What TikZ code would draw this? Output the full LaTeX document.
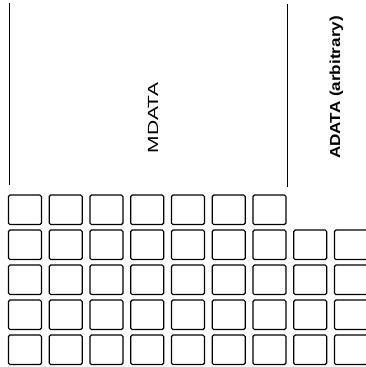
\documentclass[tikz,border=0pt]{standalone}
\usepackage{fontspec}
\setmainfont{Liberation Sans}
\tikzset{
  cell/.style={rectangle, draw, line width=1.2pt, rounded corners=1.5pt,
    minimum width=33pt, minimum height=29.5pt, inner sep=0pt},
  bar/.style={line width=1pt},
}
\begin{document}
\begin{tikzpicture}[x=1pt, y=-1pt]
        \useasboundingbox (0,0) rectangle (366,367);
        \clip (0,0) rectangle (366,367);
        % area boundaries
        \draw[bar] (9,3) -- (9,185);
        \draw[bar] (287,4) -- (287,187);
        \node[rotate=90, anchor=base, inner sep=0pt] (mdata) at (158,118)
            {\fontsize{14.7pt}{16pt}\selectfont\scalebox{1.43}[1]{MDATA}};
        \node[rotate=90, anchor=base, inner sep=0pt] (adata) at (340,87.5)
            {\fontsize{14.5pt}{16pt}\selectfont\bfseries\scalebox{1.18}[1]{ADATA (arbitrary)}};
        % memory cells
        \foreach \c in {1,...,7}
            \node[cell] (c-1-\c) at ({24.9+40.75*(\c-1)},209.75) {};
        \foreach \r in {2,...,5}
            \foreach \c in {1,...,9}
                \node[cell] (c-\r-\c) at ({24.9+40.75*(\c-1)},{209.75+35*(\r-1)}) {};
    \end{tikzpicture}
\end{document}
